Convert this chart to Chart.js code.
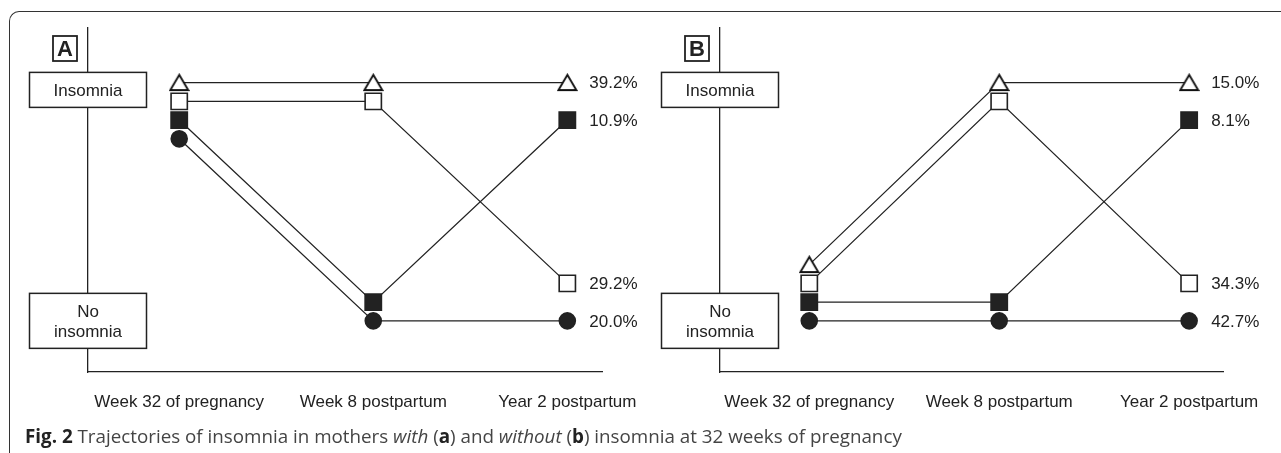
<!DOCTYPE html>
<html>
<head>
<meta charset="utf-8">
<script src="https://cdn.jsdelivr.net/npm/chart.js@4.4.1/dist/chart.umd.min.js"></script>
<style>
  html, body { margin: 0; padding: 0; background: #fff; overflow: hidden; }
  #fig { position: relative; width: 1281px; height: 453px; overflow: hidden; }
  #frame { position: absolute; left: 9px; top: 11px; width: 1300px; height: 470px;
           border-top: 1.5px solid #333; border-left: 1.5px solid #333; border-top-left-radius: 10px; }
  canvas { position: absolute; top: 0; }
  #caption { position: absolute; left: 25px; top: 423px; font-family: "Open Sans", sans-serif;
             font-size: 18.8px; color: #444; white-space: nowrap; }
  #caption b { color: #222; }
</style>
</head>
<body>
<div id="fig">
  <div id="frame"></div>
  <canvas id="chartA" width="660" height="453" style="left:0"></canvas>
  <canvas id="chartB" width="649" height="453" style="left:632px"></canvas>
  <div id="caption"><b>Fig. 2</b> Trajectories of insomnia in mothers <i>with</i> (<b>a</b>) and <i>without</i> (<b>b</b>) insomnia at 32 weeks of pregnancy</div>
</div>
<script>
const timepoints = ["Week 32 of pregnancy", "Week 8 postpartum", "Year 2 postpartum"];
const stateLabels = [["No", "insomnia"], ["Insomnia"]];   // index = state (0 = no insomnia, 1 = insomnia)

// one row per trajectory: state at each time point
const pathsA = [[1, 1, 1], [1, 1, 0], [1, 0, 1], [1, 0, 0]];
const pctA = ["39.2%", "29.2%", "10.9%", "20.0%"];
const pathsB = [[0, 1, 1], [0, 1, 0], [0, 0, 1], [0, 0, 0]];
const pctB = ["15.0%", "34.3%", "8.1%", "42.7%"];

const INK = "#222";
const SLOT = 0.103; // vertical offset between trajectories sharing a state

// hollow triangle centred on its bounding box (like the original figure)
function triangleImg() {
  const c = document.createElement("canvas");
  c.width = 21; c.height = 19;
  const g = c.getContext("2d");
  g.beginPath();
  g.moveTo(10.5, 1.8);
  g.lineTo(19.5, 17);
  g.lineTo(1.5, 17);
  g.closePath();
  g.fillStyle = "#fff";
  g.fill();
  g.lineWidth = 1.9;
  g.lineJoin = "miter";
  g.strokeStyle = "#111";
  g.stroke();
  return c;
}

const markers = [
  { pointStyle: triangleImg(), radius: 10, fill: "#fff" },
  { pointStyle: "rect", radius: 11.5, fill: "#fff" },
  { pointStyle: "rect", radius: 11.5, fill: INK },
  { pointStyle: "circle", radius: 8, fill: INK },
];

Chart.defaults.font.family = "'Liberation Sans', Arial, sans-serif";
Chart.defaults.font.size = 17;
Chart.defaults.color = INK;

const trajPlugin = {
  id: "traj",
  afterDraw(chart, args, opts) {
    const ctx = chart.ctx;
    const ys = chart.scales.y;
    const ax = chart.chartArea.left;
    ctx.save();
    ctx.font = "17px 'Liberation Sans', Arial";
    ctx.textBaseline = "middle";

    // percentages at the end of each trajectory
    ctx.fillStyle = INK;
    ctx.textAlign = "left";
    chart.data.datasets.forEach((ds, i) => {
      const pt = chart.getDatasetMeta(i).data[2];
      ctx.fillText(opts.pct[i], pt.x + 22, pt.y + 1);
    });

    // state boxes sitting on the y axis
    const boxes = [
      { lines: stateLabels[1], y: ys.getPixelForValue(1 - 0.04), h: 35 },
      { lines: stateLabels[0], y: ys.getPixelForValue(-3 * SLOT), h: 55 },
    ];
    ctx.lineWidth = 1.5;
    ctx.strokeStyle = INK;
    ctx.textAlign = "center";
    boxes.forEach(b => {
      const w = 117;
      ctx.fillStyle = "#fff";
      ctx.fillRect(ax - w / 2, b.y - b.h / 2, w, b.h);
      ctx.strokeRect(ax - w / 2, b.y - b.h / 2, w, b.h);
      ctx.fillStyle = INK;
      b.lines.forEach((t, k) => {
        ctx.fillText(t, ax, b.y + (k - (b.lines.length - 1) / 2) * 20 + 1);
      });
    });

    // panel letter
    ctx.lineWidth = 1.8;
    ctx.strokeRect(ax - 35, 36, 24, 25);
    ctx.font = "bold 22px 'Liberation Sans', Arial";
    ctx.fillText(opts.letter, ax - 23, 49.5);
    ctx.restore();
  }
};

function makePanel(id, paths, pct, letter) {
  const datasets = paths.map((path, i) => ({
    data: path.map((s, t) => ({ x: t, y: s - i * SLOT })),
    borderColor: INK,
    borderWidth: 1.3,
    pointStyle: markers[i].pointStyle,
    pointRadius: markers[i].radius,
    pointHoverRadius: markers[i].radius,
    pointBackgroundColor: markers[i].fill,
    pointBorderColor: INK,
    pointBorderWidth: 1.6,
    tension: 0,
    clip: false,
  }));
  return new Chart(document.getElementById(id), {
    type: "line",
    data: { datasets },
    options: {
      responsive: false,
      animation: false,
      events: [],
      layout: { padding: { left: 88, right: id === "chartA" ? 52 : 40, top: 28, bottom: 36 } },
      plugins: { legend: { display: false }, tooltip: { enabled: false }, traj: { pct, letter } },
      scales: {
        x: {
          type: "linear",
          min: -0.47,
          max: 2.18,
          afterBuildTicks: s => { s.ticks = timepoints.map((_, i) => ({ value: i })); },
          afterFit: s => { s.height = 45; },
          ticks: { callback: v => timepoints[v], padding: 20, maxRotation: 0, autoSkip: false },
          grid: { drawOnChartArea: false, drawTicks: false },
          border: { display: true, color: INK, width: 1.3 },
        },
        y: {
          type: "linear",
          min: -0.59,
          max: 1.30,
          afterFit: s => { s.width = 0; },
          ticks: { display: false },
          grid: { drawOnChartArea: false, drawTicks: false },
          border: { display: true, color: INK, width: 1.3 },
        },
      },
    },
    plugins: [trajPlugin],
  });
}

makePanel("chartA", pathsA, pctA, "A");
makePanel("chartB", pathsB, pctB, "B");
</script>
</body>
</html>
